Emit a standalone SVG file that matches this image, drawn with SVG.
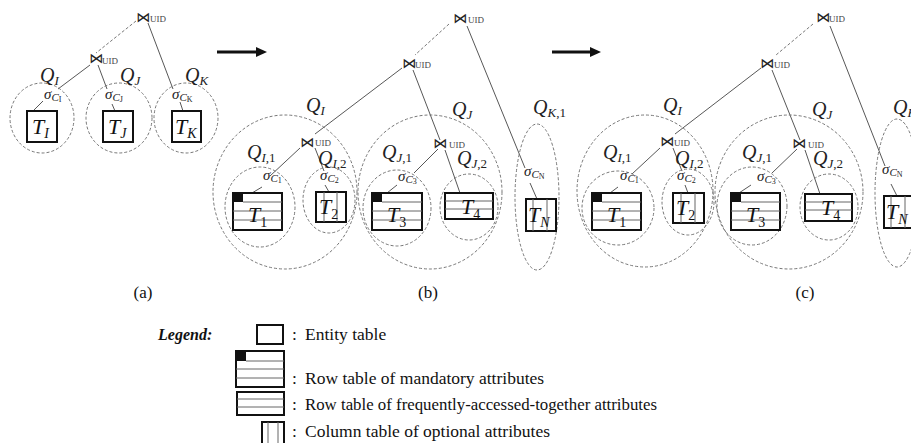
<svg xmlns="http://www.w3.org/2000/svg" width="911" height="443" viewBox="0 0 911 443">
<style>
.bg{fill:#fff}
.q{font:italic 20px "Liberation Serif",serif;fill:#222}
.s{font-size:13px}
.s2{font-size:13px;font-style:normal}
.sg{font:italic 15px "Liberation Serif",serif;fill:#222}
.sc{font-size:11px}
.sc2{font-size:8px;font-style:normal}
.t{font:italic 22px "Liberation Serif",serif;fill:#111}
.ts{font-size:14px;font-style:normal}
.tsi{font-size:14px}
.j{font:14px "DejaVu Sans",sans-serif;fill:#222}
.u{font:9px "Liberation Serif",serif;fill:#444}
.cap{font:17px "Liberation Serif",serif;fill:#111}
.lg{font:17.5px "Liberation Serif",serif;fill:#111}
.lgb{font:italic bold 16px "Liberation Serif",serif;fill:#111}
.c{fill:none;stroke:#777;stroke-width:1;stroke-dasharray:3 2}
.box{fill:#fff;stroke:#111;stroke-width:2}
.in{stroke:#666;stroke-width:1}
.blk{fill:#111}
.ln{stroke:#444;stroke-width:0.9;fill:none}
.dl{stroke:#777;stroke-width:1;fill:none;stroke-dasharray:3 2}
.ar{stroke:#111;stroke-width:3}
</style>
<defs>
<marker id="ah" markerWidth="12" markerHeight="10" refX="1" refY="5" orient="auto" markerUnits="userSpaceOnUse"><path d="M0,0 L11,5 L0,10 z" fill="#111"/></marker>
</defs>
<rect class="bg" x="0" y="0" width="911" height="443"/>

<!-- connectors -->
<g id="connectors">
<!-- panel a -->
<line class="dl" x1="136" y1="21" x2="96" y2="53"/>
<line class="ln" x1="148" y1="23" x2="173" y2="89"/>
<line class="ln" x1="180" y1="102" x2="183" y2="111"/>
<line class="ln" x1="90" y1="65" x2="58" y2="89"/>
<line class="ln" x1="43" y1="101" x2="33" y2="111"/>
<line class="ln" x1="98" y1="65" x2="107" y2="89"/>
<line class="ln" x1="112" y1="104" x2="115" y2="111"/>
<!-- panel b -->
<line class="dl" x1="449" y1="24" x2="415" y2="55"/>
<line class="ln" x1="467" y1="26" x2="525" y2="168"/>
<line class="ln" x1="530" y1="183" x2="537" y2="199"/>
<line class="ln" x1="402" y1="68" x2="315" y2="134"/>
<line class="ln" x1="413" y1="70" x2="440" y2="140"/>
<line class="ln" x1="445" y1="150" x2="460" y2="193"/>
<line class="ln" x1="300" y1="148" x2="270" y2="176"/>
<line class="ln" x1="262" y1="187" x2="252" y2="193"/>
<line class="ln" x1="315" y1="148" x2="324" y2="171"/>
<line class="ln" x1="325" y1="185" x2="329" y2="192"/>
<line class="ln" x1="438" y1="149" x2="414" y2="173"/>
<line class="ln" x1="397" y1="185" x2="387" y2="193"/>
<!-- panel c -->
<line class="dl" x1="813" y1="24" x2="776" y2="55"/>
<line class="ln" x1="830" y1="26" x2="885" y2="166"/>
<line class="ln" x1="891" y1="184" x2="897" y2="196"/>
<line class="ln" x1="761" y1="68" x2="675" y2="134"/>
<line class="ln" x1="772" y1="70" x2="800" y2="140"/>
<line class="ln" x1="805" y1="150" x2="820" y2="194"/>
<line class="ln" x1="660" y1="148" x2="632" y2="174"/>
<line class="ln" x1="618" y1="187" x2="610" y2="193"/>
<line class="ln" x1="673" y1="148" x2="682" y2="171"/>
<line class="ln" x1="685" y1="185" x2="688" y2="193"/>
<line class="ln" x1="797" y1="149" x2="772" y2="173"/>
<line class="ln" x1="751" y1="185" x2="739" y2="193"/>
<!-- arrows -->
<line class="ar" x1="217" y1="52" x2="257" y2="52" marker-end="url(#ah)"/>
<line class="ar" x1="552" y1="52" x2="591" y2="52" marker-end="url(#ah)"/>
</g>

<!-- ===== panel (a) ===== -->
<g id="a-join-top"><text class="j" x="136" y="22">⋈</text><text class="u" x="150" y="22">UID</text></g>
<g id="a-join"><text class="j" x="89" y="63">⋈</text><text class="u" x="102" y="64">UID</text></g>
<g id="a-QI">
<ellipse class="c" cx="42" cy="118" rx="32" ry="35"/>
<text class="q" x="40" y="82">Q<tspan class="s" dy="3">I</tspan></text>
<text class="sg" x="44" y="99">σ<tspan class="sc" dy="2">C</tspan><tspan class="sc2" dy="1">I</tspan></text>
<rect class="box" x="27" y="111" width="30" height="31"/>
<text class="t" x="32" y="134">T<tspan class="tsi" dy="4">I</tspan></text>
</g>
<g id="a-QJ">
<ellipse class="c" cx="119" cy="118" rx="33" ry="35"/>
<text class="q" x="120" y="82">Q<tspan class="s" dy="3">J</tspan></text>
<text class="sg" x="105" y="99">σ<tspan class="sc" dy="2">C</tspan><tspan class="sc2" dy="1">J</tspan></text>
<rect class="box" x="103" y="111" width="30" height="31"/>
<text class="t" x="108" y="134">T<tspan class="tsi" dy="4">J</tspan></text>
</g>
<g id="a-QK">
<ellipse class="c" cx="186" cy="118" rx="32" ry="35"/>
<text class="q" x="185" y="82">Q<tspan class="s" dy="3">K</tspan></text>
<text class="sg" x="172" y="99">σ<tspan class="sc" dy="2">C</tspan><tspan class="sc2" dy="1">K</tspan></text>
<rect class="box" x="172" y="111" width="29" height="31"/>
<text class="t" x="175" y="134">T<tspan class="tsi" dy="4">K</tspan></text>
</g>
<text class="cap" x="143" y="298" text-anchor="middle">(a)</text>

<!-- ===== panel (b) ===== -->
<g id="b-join-top"><text class="j" x="453" y="23">⋈</text><text class="u" x="468" y="23">UID</text></g>
<g id="b-join"><text class="j" x="402" y="68">⋈</text><text class="u" x="415" y="68">UID</text></g>
<g id="b-QI">
<ellipse class="c" cx="285" cy="192" rx="72" ry="77"/>
<text class="q" x="306" y="112">Q<tspan class="s" dy="3">I</tspan></text>
<text class="j" x="300" y="147">⋈</text><text class="u" x="315" y="146">UID</text>
</g>
<g id="b-QI1">
<ellipse class="c" cx="260" cy="207" rx="35" ry="40"/>
<text class="q" x="247" y="159">Q<tspan class="s" dy="3">I</tspan><tspan class="s2">,1</tspan></text>
<text class="sg" x="263" y="180">σ<tspan class="sc" dy="2">C</tspan><tspan class="sc2" dy="1">1</tspan></text>
<rect class="box" x="233" y="193" width="49" height="37"/>
<rect class="blk" x="233" y="193" width="10" height="9"/>
<line class="in" x1="243" y1="202" x2="282" y2="202"/>
<line class="in" x1="233" y1="211" x2="282" y2="211"/>
<line class="in" x1="233" y1="220" x2="282" y2="220"/>
<text class="t" x="248" y="222">T<tspan class="ts" dy="5">1</tspan></text>
</g>
<g id="b-QI2">
<ellipse class="c" cx="329" cy="200" rx="26" ry="33"/>
<text class="q" x="318" y="165">Q<tspan class="s" dy="3">I</tspan><tspan class="s2">,2</tspan></text>
<text class="sg" x="320" y="180">σ<tspan class="sc" dy="2">C</tspan><tspan class="sc2" dy="1">2</tspan></text>
<rect class="box" x="316" y="192" width="30" height="30"/>
<line class="in" x1="324" y1="192" x2="324" y2="222"/>
<line class="in" x1="337" y1="192" x2="337" y2="222"/>
<text class="t" x="319" y="214">T<tspan class="ts" dy="5">2</tspan></text>
</g>
<g id="b-QJ">
<ellipse class="c" cx="430" cy="192" rx="72" ry="77"/>
<text class="q" x="452" y="116">Q<tspan class="s" dy="3">J</tspan></text>
<text class="j" x="433" y="148">⋈</text><text class="u" x="449" y="148">UID</text>
</g>
<g id="b-QJ1">
<ellipse class="c" cx="397" cy="208" rx="34" ry="38"/>
<text class="q" x="382" y="159">Q<tspan class="s" dy="3">J</tspan><tspan class="s2">,1</tspan></text>
<text class="sg" x="398" y="181">σ<tspan class="sc" dy="2">C</tspan><tspan class="sc2" dy="1">3</tspan></text>
<rect class="box" x="372" y="193" width="50" height="37"/>
<rect class="blk" x="372" y="193" width="10" height="9"/>
<line class="in" x1="382" y1="202" x2="422" y2="202"/>
<line class="in" x1="372" y1="211" x2="422" y2="211"/>
<line class="in" x1="372" y1="220" x2="422" y2="220"/>
<text class="t" x="387" y="222">T<tspan class="ts" dy="5">3</tspan></text>
</g>
<g id="b-QJ2">
<ellipse class="c" cx="469" cy="207" rx="29" ry="33"/>
<text class="q" x="457" y="165">Q<tspan class="s" dy="3">J</tspan><tspan class="s2">,2</tspan></text>
<rect class="box" x="445" y="193" width="48" height="26"/>
<line class="in" x1="445" y1="201" x2="493" y2="201"/>
<line class="in" x1="445" y1="209" x2="493" y2="209"/>
<text class="t" x="461" y="214">T<tspan class="ts" dy="5">4</tspan></text>
</g>
<g id="b-QK1">
<ellipse class="c" cx="537" cy="197" rx="22" ry="73"/>
<text class="q" x="533" y="114">Q<tspan class="s" dy="3">K</tspan><tspan class="s2">,1</tspan></text>
<text class="sg" x="524" y="176">σ<tspan class="sc" dy="2">C</tspan><tspan class="sc2" dy="1">N</tspan></text>
<rect class="box" x="526" y="199" width="30" height="32"/>
<line class="in" x1="533" y1="199" x2="533" y2="231"/>
<line class="in" x1="547" y1="199" x2="547" y2="231"/>
<text class="t" x="528" y="222">T<tspan class="tsi" dy="5">N</tspan></text>
</g>
<text class="cap" x="428" y="298" text-anchor="middle">(b)</text>

<!-- ===== panel (c) ===== -->
<g id="c-join-top"><text class="j" x="816" y="22">⋈</text><text class="u" x="829" y="22">UID</text></g>
<g id="c-join"><text class="j" x="760" y="68">⋈</text><text class="u" x="774" y="68">UID</text></g>
<g id="c-QI">
<ellipse class="c" cx="645" cy="191" rx="68" ry="76"/>
<text class="q" x="663" y="112">Q<tspan class="s" dy="3">I</tspan></text>
<text class="j" x="660" y="146">⋈</text><text class="u" x="674" y="146">UID</text>
</g>
<g id="c-QI1">
<ellipse class="c" cx="618" cy="208" rx="36" ry="37"/>
<text class="q" x="603" y="159">Q<tspan class="s" dy="3">I</tspan><tspan class="s2">,1</tspan></text>
<text class="sg" x="620" y="180">σ<tspan class="sc" dy="2">C</tspan><tspan class="sc2" dy="1">1</tspan></text>
<rect class="box" x="592" y="193" width="49" height="37"/>
<rect class="blk" x="592" y="193" width="10" height="9"/>
<line class="in" x1="602" y1="202" x2="641" y2="202"/>
<line class="in" x1="592" y1="211" x2="641" y2="211"/>
<line class="in" x1="592" y1="220" x2="641" y2="220"/>
<text class="t" x="607" y="222">T<tspan class="ts" dy="5">1</tspan></text>
</g>
<g id="c-QI2">
<ellipse class="c" cx="688" cy="202" rx="26" ry="33"/>
<text class="q" x="675" y="165">Q<tspan class="s" dy="3">I</tspan><tspan class="s2">,2</tspan></text>
<text class="sg" x="677" y="180">σ<tspan class="sc" dy="2">C</tspan><tspan class="sc2" dy="1">2</tspan></text>
<rect class="box" x="673" y="193" width="31" height="30"/>
<line class="in" x1="681" y1="193" x2="681" y2="223"/>
<line class="in" x1="695" y1="193" x2="695" y2="223"/>
<text class="t" x="676" y="215">T<tspan class="ts" dy="5">2</tspan></text>
</g>
<g id="c-QJ">
<ellipse class="c" cx="789" cy="192" rx="74" ry="77"/>
<text class="q" x="812" y="116">Q<tspan class="s" dy="3">J</tspan></text>
<text class="j" x="792" y="148">⋈</text><text class="u" x="808" y="148">UID</text>
</g>
<g id="c-QJ1">
<ellipse class="c" cx="752" cy="206" rx="35" ry="39"/>
<text class="q" x="742" y="159">Q<tspan class="s" dy="3">J</tspan><tspan class="s2">,1</tspan></text>
<text class="sg" x="757" y="181">σ<tspan class="sc" dy="2">C</tspan><tspan class="sc2" dy="1">3</tspan></text>
<rect class="box" x="731" y="193" width="49" height="37"/>
<rect class="blk" x="731" y="193" width="10" height="9"/>
<line class="in" x1="741" y1="202" x2="780" y2="202"/>
<line class="in" x1="731" y1="211" x2="780" y2="211"/>
<line class="in" x1="731" y1="220" x2="780" y2="220"/>
<text class="t" x="746" y="222">T<tspan class="ts" dy="5">3</tspan></text>
</g>
<g id="c-QJ2">
<ellipse class="c" cx="829" cy="207" rx="29" ry="33"/>
<text class="q" x="813" y="165">Q<tspan class="s" dy="3">J</tspan><tspan class="s2">,2</tspan></text>
<rect class="box" x="805" y="194" width="47" height="27"/>
<line class="in" x1="805" y1="202" x2="852" y2="202"/>
<line class="in" x1="805" y1="210" x2="852" y2="210"/>
<text class="t" x="821" y="215">T<tspan class="ts" dy="5">4</tspan></text>
</g>
<g id="c-QK1">
<ellipse class="c" cx="897" cy="193" rx="22" ry="74"/>
<text class="q" x="893" y="114">Q<tspan class="s" dy="3">K</tspan><tspan class="s2">,1</tspan></text>
<text class="sg" x="882" y="174">σ<tspan class="sc" dy="2">C</tspan><tspan class="sc2" dy="1">N</tspan></text>
<rect class="box" x="884" y="196" width="30" height="32"/>
<line class="in" x1="891" y1="196" x2="891" y2="228"/>
<line class="in" x1="905" y1="196" x2="905" y2="228"/>
<text class="t" x="886" y="219">T<tspan class="tsi" dy="5">N</tspan></text>
</g>
<text class="cap" x="805" y="298" text-anchor="middle">(c)</text>

<!-- ===== legend ===== -->
<g id="legend">
<text class="lgb" x="158" y="340">Legend:</text>
<g id="lg-entity">
<rect class="box" x="257" y="325" width="26" height="19"/>
<text class="lg" x="292" y="340">:</text>
<text class="lg" x="305" y="340">Entity table</text>
</g>
<g id="lg-mand">
<rect class="box" x="236" y="351" width="48" height="36"/>
<rect class="blk" x="236" y="351" width="10" height="10"/>
<line class="in" x1="246" y1="361" x2="284" y2="361"/>
<line class="in" x1="236" y1="369" x2="284" y2="369"/>
<line class="in" x1="236" y1="378" x2="284" y2="378"/>
<text class="lg" x="292" y="384">:</text>
<text class="lg" x="305" y="384">Row table of mandatory attributes</text>
</g>
<g id="lg-freq">
<rect class="box" x="237" y="392" width="47" height="23"/>
<line class="in" x1="237" y1="399" x2="284" y2="399"/>
<line class="in" x1="237" y1="407" x2="284" y2="407"/>
<text class="lg" x="292" y="410">:</text>
<text class="lg" x="305" y="410" textLength="352" lengthAdjust="spacingAndGlyphs">Row table of frequently-accessed-together attributes</text>
</g>
<g id="lg-col">
<rect class="box" x="262" y="422" width="22" height="24"/>
<line class="in" x1="268" y1="422" x2="268" y2="446"/>
<line class="in" x1="278" y1="422" x2="278" y2="446"/>
<text class="lg" x="292" y="437">:</text>
<text class="lg" x="305" y="437">Column table of optional attributes</text>
</g>
</g>
</svg>
